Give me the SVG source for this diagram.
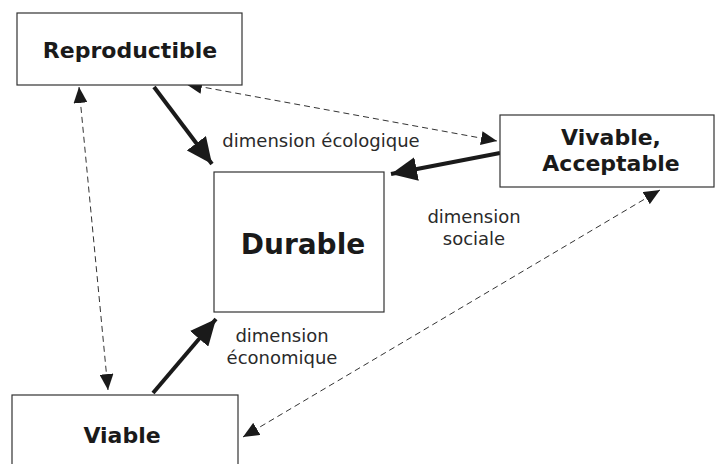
<svg xmlns="http://www.w3.org/2000/svg" width="715" height="464" viewBox="0 0 715 464">
  <style>
    .box { fill: #ffffff; stroke: #333333; stroke-width: 1.2; }
    .title { font-family: "DejaVu Sans", "Liberation Sans", sans-serif; font-weight: bold; fill: #1a1a1a; text-anchor: middle; }
    .dim { font-family: "DejaVu Sans", "Liberation Sans", sans-serif; font-size: 18px; fill: #2a2a2a; text-anchor: middle; }
    .strong { stroke: #1a1a1a; stroke-width: 4; fill: none; }
    .dashed { stroke: #333333; stroke-width: 1; stroke-dasharray: 6 4; fill: none; }
  </style>
  <defs>
    <marker id="bigHead" markerUnits="userSpaceOnUse" markerWidth="28" markerHeight="24" refX="26" refY="12" orient="auto">
      <path d="M0,0 L26,12 L0,24 Z" fill="#1a1a1a"/>
    </marker>
    <marker id="smallHead" markerUnits="userSpaceOnUse" markerWidth="18" markerHeight="14" refX="16" refY="7" orient="auto-start-reverse">
      <path d="M0,0 L16,7 L0,14 Z" fill="#1a1a1a"/>
    </marker>
  </defs>

  <rect width="715" height="464" fill="#ffffff"/>

  <g id="connectors">
    <!-- strong contributions towards Durable -->
    <line class="strong" x1="154" y1="87" x2="212" y2="164" marker-end="url(#bigHead)"/>
    <line class="strong" x1="500" y1="153" x2="391" y2="174" marker-end="url(#bigHead)"/>
    <line class="strong" x1="153" y1="393" x2="216" y2="319" marker-end="url(#bigHead)"/>
    <!-- dashed two-way links between the pillars -->
    <line class="dashed" x1="186" y1="84" x2="497" y2="141" marker-start="url(#smallHead)" marker-end="url(#smallHead)"/>
    <line class="dashed" x1="79" y1="87" x2="108" y2="390" marker-start="url(#smallHead)" marker-end="url(#smallHead)"/>
    <line class="dashed" x1="243" y1="437" x2="660" y2="190" marker-start="url(#smallHead)" marker-end="url(#smallHead)"/>
  </g>

  <g id="reproductible">
    <rect class="box" x="17" y="13" width="225" height="72"/>
    <text class="title" x="130" y="58" font-size="22">Reproductible</text>
  </g>

  <g id="durable">
    <rect class="box" x="214" y="172" width="170" height="140"/>
    <text class="title" x="303" y="254" font-size="28">Durable</text>
  </g>

  <g id="vivable">
    <rect class="box" x="500" y="115" width="214" height="72"/>
    <text class="title" x="611" y="145" font-size="22">Vivable,</text>
    <text class="title" x="611" y="171" font-size="22">Acceptable</text>
  </g>

  <g id="viable">
    <rect class="box" x="12" y="395" width="226" height="80"/>
    <text class="title" x="122" y="443" font-size="22">Viable</text>
  </g>

  <g id="labels">
    <text class="dim" x="321" y="147">dimension écologique</text>
    <text class="dim" x="474" y="223">dimension</text>
    <text class="dim" x="474" y="245">sociale</text>
    <text class="dim" x="282" y="342">dimension</text>
    <text class="dim" x="282" y="364">économique</text>
  </g>
</svg>
